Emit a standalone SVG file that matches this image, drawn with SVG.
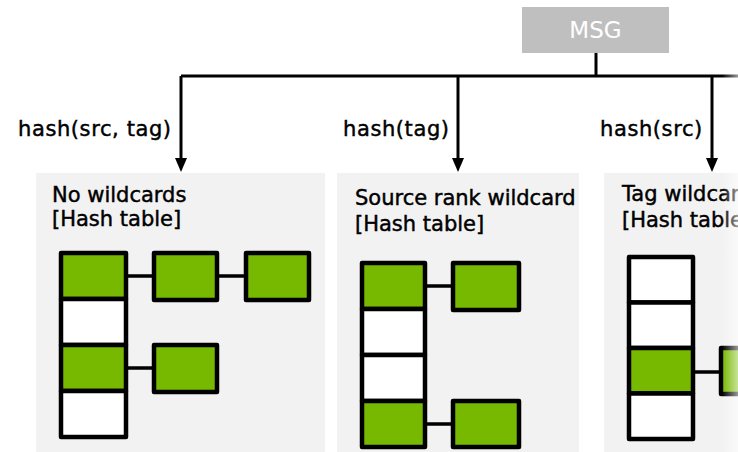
<svg xmlns="http://www.w3.org/2000/svg" width="738" height="452" viewBox="0 0 738 452">
  <defs>
    <style>
      text { font-family: "DejaVu Sans", Verdana, sans-serif; fill: #000; }
      .label { font-size: 21px; letter-spacing: 0.6px; stroke: #000; stroke-width: 0.45; }
      .title { font-size: 21px; stroke: #000; stroke-width: 0.45; }
      .panel { fill: #f2f2f2; }
      .cell { stroke: #000; stroke-width: 4.5; stroke-linejoin: round; }
      .g { fill: #76b900; }
      .w { fill: #ffffff; }
      .link { stroke: #000; stroke-width: 3.5; fill: none; }
      .wire { stroke: #000; stroke-width: 3; fill: none; }
    </style>
    <marker id="arrow" viewBox="0 0 14 12" refX="1" refY="6" markerWidth="14" markerHeight="12" markerUnits="userSpaceOnUse" orient="auto">
      <path d="M0,0 L14,6 L0,12 z" fill="#000"/>
    </marker>
    <linearGradient id="edgeFade" x1="0" y1="0" x2="1" y2="0">
      <stop offset="0" stop-color="#ffffff" stop-opacity="0"/>
      <stop offset="1" stop-color="#ffffff" stop-opacity="0.6"/>
    </linearGradient>
  </defs>

  <rect width="738" height="452" fill="#ffffff"/>

  <!-- message source -->
  <g id="msg">
    <rect x="522" y="7" width="147" height="46" fill="#bfbfbf"/>
    <text x="595.5" y="37.5" font-size="23" text-anchor="middle" style="fill:#ffffff">MSG</text>
  </g>

  <!-- dispatch connectors -->
  <g id="connectors">
    <path class="wire" d="M596,53 V76"/>
    <path class="wire" d="M181,76 H738"/>
    <path class="wire" d="M181,76 V159" marker-end="url(#arrow)"/>
    <path class="wire" d="M458,76 V159" marker-end="url(#arrow)"/>
    <path class="wire" d="M712,76 V159" marker-end="url(#arrow)"/>
    <text class="label" x="18" y="136">hash(src, tag)</text>
    <text class="label" x="343" y="136">hash(tag)</text>
    <text class="label" x="600" y="136">hash(src)</text>
  </g>

  <!-- no wildcards -->
  <g id="no-wildcards">
    <rect class="panel" x="36" y="173" width="289" height="279"/>
    <text class="title" x="52" y="202">No wildcards</text>
    <text class="title" x="52" y="226">[Hash table]</text>
    <path class="link" d="M126,276 H154 M217,276 H246 M126,368 H154"/>
    <rect class="cell g" x="61" y="253" width="65" height="46"/>
    <rect class="cell w" x="61" y="299" width="65" height="46"/>
    <rect class="cell g" x="61" y="345" width="65" height="46"/>
    <rect class="cell w" x="61" y="391" width="65" height="46"/>
    <rect class="cell g" x="154" y="253" width="63" height="47"/>
    <rect class="cell g" x="246" y="253" width="63" height="47"/>
    <rect class="cell g" x="154" y="345" width="63" height="47"/>
  </g>

  <!-- source rank wildcard -->
  <g id="source-wildcard">
    <rect class="panel" x="337" y="173" width="242" height="279"/>
    <text class="title" x="355" y="205">Source rank wildcard</text>
    <text class="title" x="355" y="231">[Hash table]</text>
    <path class="link" d="M425,286 H453 M425,424 H453"/>
    <rect class="cell g" x="362" y="263" width="63" height="46"/>
    <rect class="cell w" x="362" y="309" width="63" height="46"/>
    <rect class="cell w" x="362" y="355" width="63" height="46"/>
    <rect class="cell g" x="362" y="401" width="63" height="46"/>
    <rect class="cell g" x="453" y="263" width="66" height="47"/>
    <rect class="cell g" x="453" y="401" width="66" height="46"/>
  </g>

  <!-- tag wildcard -->
  <g id="tag-wildcard">
    <rect class="panel" x="604" y="173" width="140" height="279"/>
    <text class="title" x="622" y="201">Tag wildcard</text>
    <text class="title" x="622" y="227">[Hash table]</text>
    <path class="link" d="M693,372 H721"/>
    <rect class="cell w" x="629" y="257" width="64" height="45.5"/>
    <rect class="cell w" x="629" y="302.5" width="64" height="45.5"/>
    <rect class="cell g" x="629" y="348" width="64" height="45.5"/>
    <rect class="cell w" x="629" y="393.5" width="64" height="45.5"/>
    <rect class="cell g" x="721" y="348" width="40" height="46"/>
  </g>

  <rect x="722" y="0" width="16" height="452" fill="url(#edgeFade)"/>
</svg>
